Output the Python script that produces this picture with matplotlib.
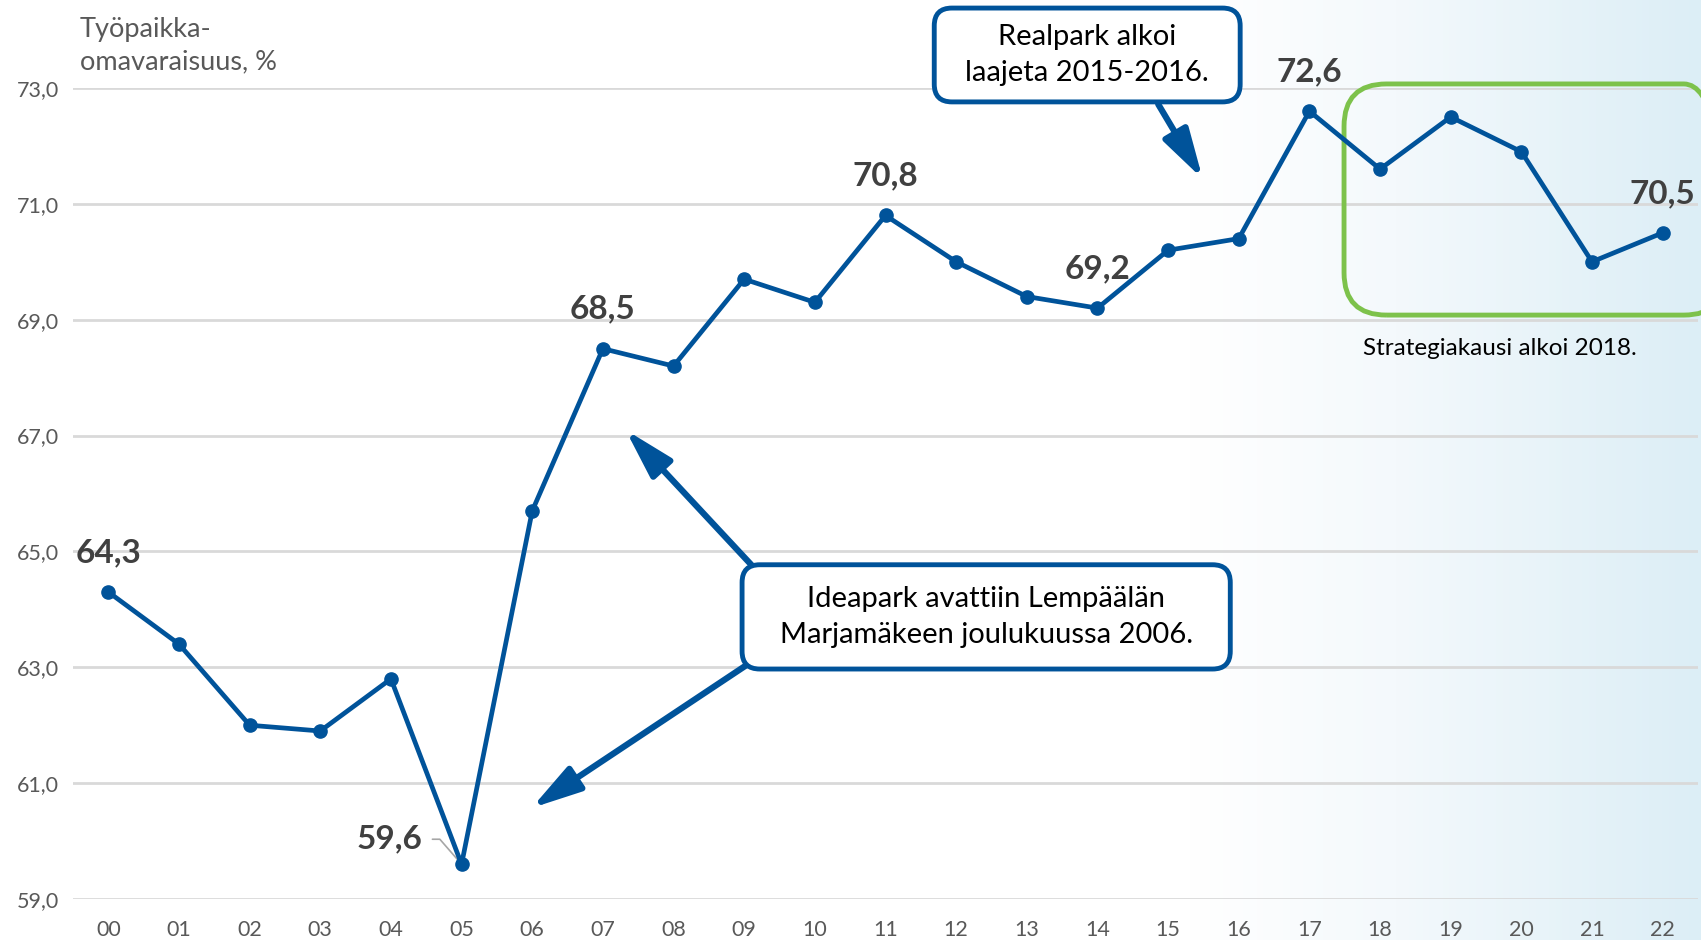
import numpy as np
import matplotlib
matplotlib.use('Agg')
import matplotlib.pyplot as plt
from matplotlib.patches import FancyBboxPatch, FancyArrowPatch
from matplotlib.colors import LinearSegmentedColormap

years = ['00', '01', '02', '03', '04', '05', '06', '07', '08', '09', '10', '11',
         '12', '13', '14', '15', '16', '17', '18', '19', '20', '21', '22']
values = [64.3, 63.4, 62.0, 61.9, 62.8, 59.6, 65.7, 68.5, 68.2, 69.7, 69.3, 70.8,
          70.0, 69.4, 69.2, 70.2, 70.4, 72.6, 71.6, 72.5, 71.9, 70.0, 70.5]
labelled = [0, 5, 7, 11, 14, 17, 22]
yticks = [59, 61, 63, 65, 67, 69, 71, 73]

BLUE = '#00539A'
GREEN = '#7DC24B'
LABEL = '#404040'
TICK = '#595959'

plt.rcParams['font.family'] = ['Lato', 'DejaVu Sans']

fig = plt.figure(figsize=(17.01, 9.40), dpi=100)

# background gradient on the right
bg = fig.add_axes([0, 0, 1, 1], zorder=-5)
bg.axis('off')
cmap = LinearSegmentedColormap.from_list('bg', [(0, '#FFFFFF'), (0.70, '#FFFFFF'),
                                                (0.82, '#F4F9FC'), (1, '#DCEEF6')])
grad = np.linspace(0, 1, 512).reshape(1, -1)
bg.imshow(grad, aspect='auto', cmap=cmap, extent=[0, 1, 0, 1])

ax = fig.add_axes([73 / 1701, 1 - 899 / 940, (1698 - 73) / 1701, (899 - 88) / 940])
ax.set_facecolor('none')
x = np.arange(len(years))
ax.plot(x, values, color=BLUE, lw=3.4, marker='o', ms=9.5, zorder=5, clip_on=False)

ax.set_xlim(-0.5, len(years) - 0.5)
ax.set_ylim(59, 73)
ax.set_yticks(yticks)
ax.set_yticklabels([('%.1f' % v).replace('.', ',') for v in yticks])
ax.set_xticks(x)
ax.set_xticklabels(years)
ax.tick_params(length=0, labelsize=15.5, colors=TICK, pad=15)
ax.tick_params(axis='y', pad=10)
ax.grid(axis='y', color='#D9D9D9', lw=2)
for s in ax.spines.values():
    s.set_visible(False)

fig.text(80 / 1701, 1 - 46 / 940, 'Työpaikka-\nomavaraisuus, %', fontsize=19.5,
         color=TICK, ha='left', va='center', linespacing=1.35)

# data labels
for i in labelled:
    s = ('%.1f' % values[i]).replace('.', ',')
    if i == 5:
        ax.annotate(s, xy=(x[i], values[i]), xytext=(-28, 18), textcoords='offset points',
                    fontsize=24, fontweight='bold', color=LABEL, ha='right', va='center',
                    arrowprops=dict(arrowstyle='-', color='#A6A6A6', lw=1.2,
                                    connectionstyle='angle,angleA=0,angleB=131,rad=0',
                                    shrinkA=5, shrinkB=2))
    else:
        ax.annotate(s, xy=(x[i], values[i]), xytext=(0, 18), textcoords='offset points',
                    fontsize=24, fontweight='bold', color=LABEL, ha='center', va='bottom',
                    annotation_clip=False)

asp = 70.7 / 57.93
arrow = '-|>,head_length=1.5,head_width=0.42'

# callout 1
b1 = FancyBboxPatch((11.69, 72.76), 16.02 - 11.69, 74.38 - 72.76,
                    boxstyle='round,pad=0,rounding_size=0.25', mutation_aspect=asp,
                    fc='white', ec=BLUE, lw=3.5, clip_on=False, zorder=6)
ax.add_patch(b1)
ax.text((11.69 + 16.02) / 2, (72.76 + 74.38) / 2, 'Realpark alkoi\nlaajeta 2015-2016.',
        fontsize=21, ha='center', va='center', linespacing=1.5, zorder=7, clip_on=False)
ax.add_patch(FancyArrowPatch((14.86, 72.72), (15.49, 71.43), arrowstyle=arrow,
                             mutation_scale=20, color=BLUE, lw=4.5, shrinkA=0, shrinkB=0,
                             clip_on=False, zorder=6))

# callout 2
b2 = FancyBboxPatch((8.97, 62.97), 15.88 - 8.97, 64.77 - 62.97,
                    boxstyle='round,pad=0,rounding_size=0.25', mutation_aspect=asp,
                    fc='white', ec=BLUE, lw=3.5, clip_on=False, zorder=6)
ax.add_patch(b2)
ax.text((8.97 + 15.88) / 2, (62.97 + 64.77) / 2,
        'Ideapark avattiin Lempäälän\nMarjamäkeen joulukuussa 2006.',
        fontsize=21, ha='center', va='center', linespacing=1.5, zorder=7)
ax.add_patch(FancyArrowPatch((9.10, 64.77), (7.32, 67.10), arrowstyle=arrow,
                             mutation_scale=20, color=BLUE, lw=4.5, shrinkA=0, shrinkB=0, zorder=5))
ax.add_patch(FancyArrowPatch((9.06, 63.06), (5.99, 60.57), arrowstyle=arrow,
                             mutation_scale=20, color=BLUE, lw=4.5, shrinkA=0, shrinkB=0, zorder=5))

# strategy period frame
g = FancyBboxPatch((17.49, 69.08), 22.9 - 17.49, 73.07 - 69.08,
                   boxstyle='round,pad=0,rounding_size=0.6', mutation_aspect=asp,
                   fc='none', ec=GREEN, lw=3.5, clip_on=False, zorder=4)
ax.add_patch(g)
ax.text(19.7, 68.5, 'Strategiakausi alkoi 2018.', fontsize=17.5, ha='center', va='center')

fig.savefig('out.png', dpi=100)
